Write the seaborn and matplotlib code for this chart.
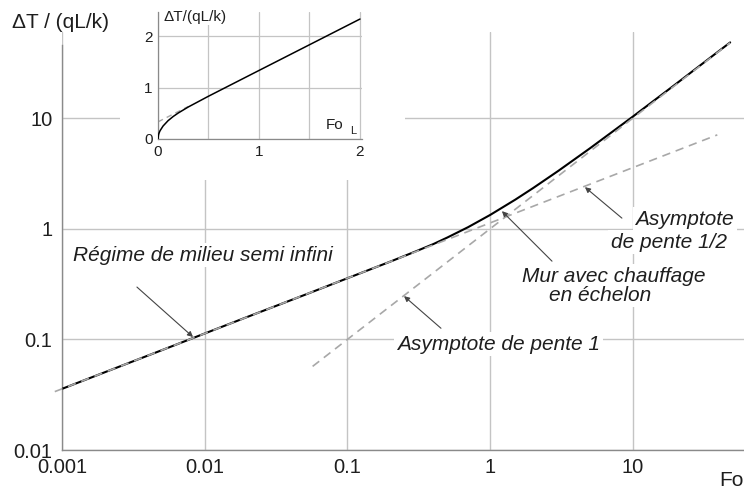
import numpy as np
import pandas as pd
import seaborn as sns
import matplotlib.pyplot as plt
from matplotlib.patches import Rectangle

# courbe du mur avec chauffage en echelon
fo_mur = [0.001, 0.002, 0.005, 0.01, 0.02, 0.05, 0.1, 0.2, 0.3, 0.4, 0.5, 0.7,
          1.0, 1.5, 2.0, 3.0, 5.0, 10.0, 20.0, 48.0]
dt_mur = [0.0357, 0.0505, 0.0798, 0.113, 0.160, 0.252, 0.357, 0.505, 0.623, 0.727,
          0.832, 1.033, 1.333, 1.833, 2.333, 3.333, 5.333, 10.33, 20.33, 48.3]

# asymptote de pente 1/2 (milieu semi infini)
fo_semi = [0.00089, 39.0]
dt_semi = [0.0337, 7.05]

# asymptote de pente 1
fo_pente1 = [0.057, 48.0]
dt_pente1 = [0.057, 48.0]

# encart en echelle lineaire
fo_lin = [0, 0.005, 0.01, 0.02, 0.05, 0.1, 0.15, 0.2, 0.3, 0.5, 1.0, 1.5, 2.0]
dt_lin = [0, 0.080, 0.113, 0.160, 0.252, 0.357, 0.437, 0.505, 0.623, 0.832, 1.333, 1.833, 2.333]
fo_lin_asym = [0, 0.3]
dt_lin_asym = [0.333, 0.633]

x_ticks = [0.001, 0.01, 0.1, 1, 10]
x_labels = ["0.001", "0.01", "0.1", "1", "10"]
y_ticks = [0.01, 0.1, 1, 10]
y_labels = ["0.01", "0.1", "1", "10"]

sns.set_style("white")
plt.rcParams['font.family'] = ['Liberation Sans', 'DejaVu Sans']

grid_col = "#c4c4c4"
spine_col = "#8a8a8a"
dash_col = "#a8a8a8"
txt_col = "#1e1e1e"

fig = plt.figure(figsize=(7.44, 4.95), dpi=100)
ax = fig.add_axes([62/744, 45/495, 682/744, 418/495])

sns.lineplot(x=fo_mur, y=dt_mur, ax=ax, color="black", lw=1.5, zorder=3)
sns.lineplot(x=fo_semi, y=dt_semi, ax=ax, color=dash_col, lw=1.2, zorder=4,
             linestyle=(0, (5, 3.5)), clip_on=False)
sns.lineplot(x=fo_pente1, y=dt_pente1, ax=ax, color=dash_col, lw=1.2, zorder=4,
             linestyle=(0, (5, 3.5)))

ax.set_xscale("log")
ax.set_yscale("log")
ax.set_xlim(0.001, 60)
ax.set_ylim(0.01, 60)
ax.minorticks_off()
ax.set_xticks(x_ticks)
ax.set_xticklabels(x_labels)
ax.set_yticks(y_ticks)
ax.set_yticklabels(y_labels)
ax.tick_params(length=0, labelsize=14.5, colors=txt_col)
ax.tick_params(axis="x", pad=6)
ax.tick_params(axis="y", pad=7)
ax.grid(True, color=grid_col, lw=1)
ax.set_xlabel("")
ax.set_ylabel("")
for s in ["top", "right"]:
    ax.spines[s].set_visible(False)
for s in ["left", "bottom"]:
    ax.spines[s].set_color(spine_col)
    ax.spines[s].set_linewidth(1)
ax.spines["left"].set_bounds(0.01, 46)

box = dict(facecolor="white", edgecolor="none", pad=2)
arrow = dict(arrowstyle="-|>", color="#444444", lw=0.8, mutation_scale=8, shrinkA=0, shrinkB=0)
fs = 15

ax.text(0.00119, 0.577, "Régime de milieu semi infini", style="italic", fontsize=fs,
        ha="left", va="center", color=txt_col, bbox=box, zorder=5)
ax.annotate("", xy=(0.00828, 0.105), xytext=(0.00335, 0.297), arrowprops=arrow, zorder=6)

ax.text(0.222, 0.0908, "Asymptote de pente 1", style="italic", fontsize=fs,
        ha="left", va="center", color=txt_col, bbox=box, zorder=5)
ax.annotate("", xy=(0.249, 0.246), xytext=(0.452, 0.126), arrowprops=arrow, zorder=6)

ax.text(1.668, 0.373, "Mur avec chauffage", style="italic", fontsize=fs,
        ha="left", va="center", color=txt_col, bbox=box, zorder=5)
ax.text(2.58, 0.251, "en échelon", style="italic", fontsize=fs,
        ha="left", va="center", color=txt_col, bbox=box, zorder=5)
ax.annotate("", xy=(1.208, 1.442), xytext=(2.71, 0.509), arrowprops=arrow, zorder=6)

ax.text(51, 1.222, "Asymptote", style="italic", fontsize=fs,
        ha="right", va="center", color=txt_col, bbox=box, zorder=5)
ax.text(45.6, 0.757, "de pente 1/2", style="italic", fontsize=fs,
        ha="right", va="center", color=txt_col, bbox=box, zorder=5)
ax.annotate("", xy=(4.61, 2.377), xytext=(8.37, 1.247), arrowprops=arrow, zorder=6)

fig.text(12/744, 1 - 22/495, "ΔT / (qL/k)", fontsize=15, ha="left", va="center", color=txt_col)
fig.text(719/744, 1 - 481/495, "Fo", fontsize=15, ha="left", va="center", color=txt_col)

# fond blanc derriere l'encart
fig.add_artist(Rectangle((120/744, 1 - 180/495), 285/744, 180/495,
                         transform=fig.transFigure, facecolor="white", edgecolor="none", zorder=1))

ins = fig.add_axes([158/744, (495-139)/495, 204/744, 127/495], zorder=2)
sns.lineplot(x=fo_lin_asym, y=dt_lin_asym, ax=ins, color=dash_col, lw=1.0,
             linestyle=(0, (4, 3)), zorder=2)
sns.lineplot(x=fo_lin, y=dt_lin, ax=ins, color="black", lw=1.1, zorder=3)
ins.set_xlim(0, 2.02)
ins.set_ylim(0, 2.47)
ins.set_xticks([0, 0.5, 1, 1.5, 2])
ins.set_xticklabels(["0", "", "1", "", "2"])
ins.set_yticks([0, 1, 2])
ins.set_yticklabels(["0", "1", "2"])
ins.tick_params(length=0, labelsize=11, colors=txt_col)
ins.tick_params(axis="x", pad=4)
ins.tick_params(axis="y", pad=4)
ins.grid(True, color=grid_col, lw=0.9)
ins.set_xlabel("")
ins.set_ylabel("")
for s in ["top", "right"]:
    ins.spines[s].set_visible(False)
for s in ["left", "bottom"]:
    ins.spines[s].set_color(spine_col)
    ins.spines[s].set_linewidth(0.9)
ins.text(1.66, 0.27, "Fo", fontsize=11, ha="left", va="center", color=txt_col)
ins.text(1.9, 0.16, "L", fontsize=8, ha="left", va="center", color=txt_col)
fig.text(163/744, 1 - 17/495, "ΔT/(qL/k)", fontsize=11, ha="left", va="center", color=txt_col,
         bbox=dict(facecolor="white", edgecolor="none", pad=1), zorder=3)

plt.savefig("out.png", dpi=100)
